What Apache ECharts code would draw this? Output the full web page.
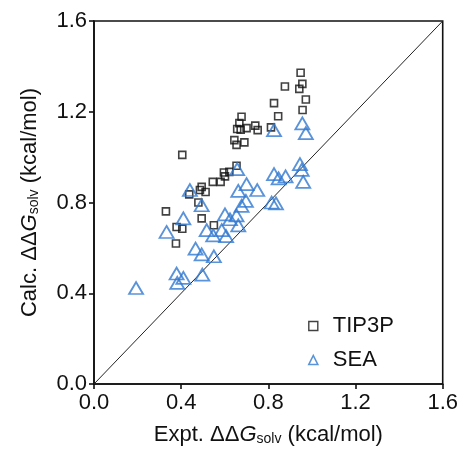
<!DOCTYPE html>
<html>
<head>
<meta charset="utf-8">
<script src="https://cdn.jsdelivr.net/npm/echarts@6/dist/echarts.min.js"></script>
<style>
  html, body { margin: 0; padding: 0; background: #fff; }
  #solv-chart { width: 461px; height: 451px; }
</style>
</head>
<body>
<div id="solv-chart"></div>
<script>
// Expt. vs calc. ddG_solv (kcal/mol)
const tip3pExpt = [0.948, 0.956, 0.942, 0.876, 0.972, 0.826, 0.957, 0.845, 0.677, 0.667,
  0.657, 0.673, 0.700, 0.740, 0.751, 0.812, 0.644, 0.654, 0.690, 0.654,
  0.621, 0.596, 0.601, 0.581, 0.545, 0.494, 0.486, 0.512, 0.437, 0.479,
  0.405, 0.494, 0.330, 0.550, 0.379, 0.405, 0.376];
const tip3pCalc = [1.372, 1.323, 1.301, 1.311, 1.254, 1.238, 1.208, 1.180, 1.178, 1.150,
  1.124, 1.121, 1.128, 1.139, 1.119, 1.131, 1.075, 1.054, 1.065, 0.962,
  0.935, 0.932, 0.915, 0.891, 0.891, 0.869, 0.855, 0.846, 0.836, 0.800,
  1.010, 0.730, 0.761, 0.700, 0.692, 0.684, 0.619];

const seaExpt = [0.826, 0.956, 0.972, 0.657, 0.945, 0.953, 0.960, 0.826, 0.847, 0.879,
  0.815, 0.835, 0.700, 0.662, 0.749, 0.697, 0.677, 0.601, 0.624, 0.654,
  0.662, 0.517, 0.547, 0.586, 0.606, 0.494, 0.550, 0.494, 0.440, 0.410,
  0.333, 0.466, 0.497, 0.379, 0.382, 0.410, 0.193];
const seaCalc = [1.119, 1.149, 1.106, 0.947, 0.969, 0.944, 0.891, 0.925, 0.906, 0.915,
  0.800, 0.796, 0.881, 0.851, 0.855, 0.807, 0.785, 0.748, 0.726, 0.743,
  0.699, 0.678, 0.655, 0.678, 0.652, 0.571, 0.563, 0.788, 0.855, 0.730,
  0.670, 0.597, 0.482, 0.487, 0.446, 0.468, 0.423];

const axisMin = 0;
const axisMax = 1.6;
const tickStep = 0.4;

function pairs(xs, ys) {
  return xs.map((x, i) => [x, ys[i]]);
}

const fontFamily = '"Liberation Sans", Arial, sans-serif';
const nameRich = {
  g: { fontStyle: 'italic', fontSize: 22, fontFamily: fontFamily, color: '#111' },
  sub: { fontSize: 14, fontFamily: fontFamily, color: '#111', verticalAlign: 'bottom', padding: [9, 0, 0, 0] }
};

const chart = echarts.init(document.getElementById('solv-chart'));

const axisCommon = {
  type: 'value',
  min: axisMin,
  max: axisMax,
  interval: tickStep,
  nameLocation: 'middle',
  nameTextStyle: { fontSize: 22, fontFamily: fontFamily, color: '#111', rich: nameRich },
  axisLine: { show: true, lineStyle: { color: '#111', width: 1.6 } },
  axisTick: { show: true, inside: false, length: 5, lineStyle: { color: '#111', width: 1.6 } },
  axisLabel: {
    fontSize: 22,
    fontFamily: fontFamily,
    color: '#111',
    formatter: v => v.toFixed(1)
  },
  splitLine: { show: false }
};

const option = {
  backgroundColor: '#ffffff',
  animation: false,
  grid: {
    left: 94,
    right: 18,
    top: 21,
    bottom: 67,
    show: true,
    borderColor: '#111',
    borderWidth: 1.6,
    backgroundColor: 'transparent'
  },
  legend: {
    orient: 'vertical',
    left: 303,
    top: 310,
    itemGap: 12,
    itemWidth: 9,
    itemHeight: 9,
    textStyle: { fontSize: 22, fontFamily: fontFamily, color: '#111', padding: [0, 0, 0, 10] },
    data: [
      { name: 'TIP3P', icon: 'rect', itemStyle: { color: 'transparent', borderColor: '#111', borderWidth: 1.4 } },
      { name: 'SEA', icon: 'triangle', itemStyle: { color: 'transparent', borderColor: '#2f78d0', borderWidth: 1.6 } }
    ]
  },
  xAxis: Object.assign({}, axisCommon, {
    name: 'Expt. ΔΔ{g|G}{sub|solv} (kcal/mol)',
    nameGap: 39,
    axisLabel: Object.assign({}, axisCommon.axisLabel, { margin: 8 })
  }),
  yAxis: Object.assign({}, axisCommon, {
    name: 'Calc. ΔΔ{g|G}{sub|solv} (kcal/mol)',
    nameGap: 53,
    axisLabel: Object.assign({}, axisCommon.axisLabel, { margin: 7 })
  }),
  series: [
    {
      name: 'diagonal',
      type: 'line',
      data: [[axisMin, axisMin], [axisMax, axisMax]],
      symbol: 'none',
      lineStyle: { color: '#222', width: 1 },
      silent: true,
      z: 1
    },
    {
      name: 'TIP3P',
      type: 'scatter',
      data: pairs(tip3pExpt, tip3pCalc),
      symbol: 'rect',
      symbolSize: 7,
      itemStyle: { color: 'transparent', borderColor: '#111', borderWidth: 1.6 },
      z: 2
    },
    {
      name: 'SEA',
      type: 'scatter',
      data: pairs(seaExpt, seaCalc),
      symbol: 'triangle',
      symbolSize: [14, 12],
      itemStyle: { color: 'transparent', borderColor: '#2f78d0', borderWidth: 1.8 },
      z: 3
    }
  ]
};

chart.setOption(option);
</script>
</body>
</html>
